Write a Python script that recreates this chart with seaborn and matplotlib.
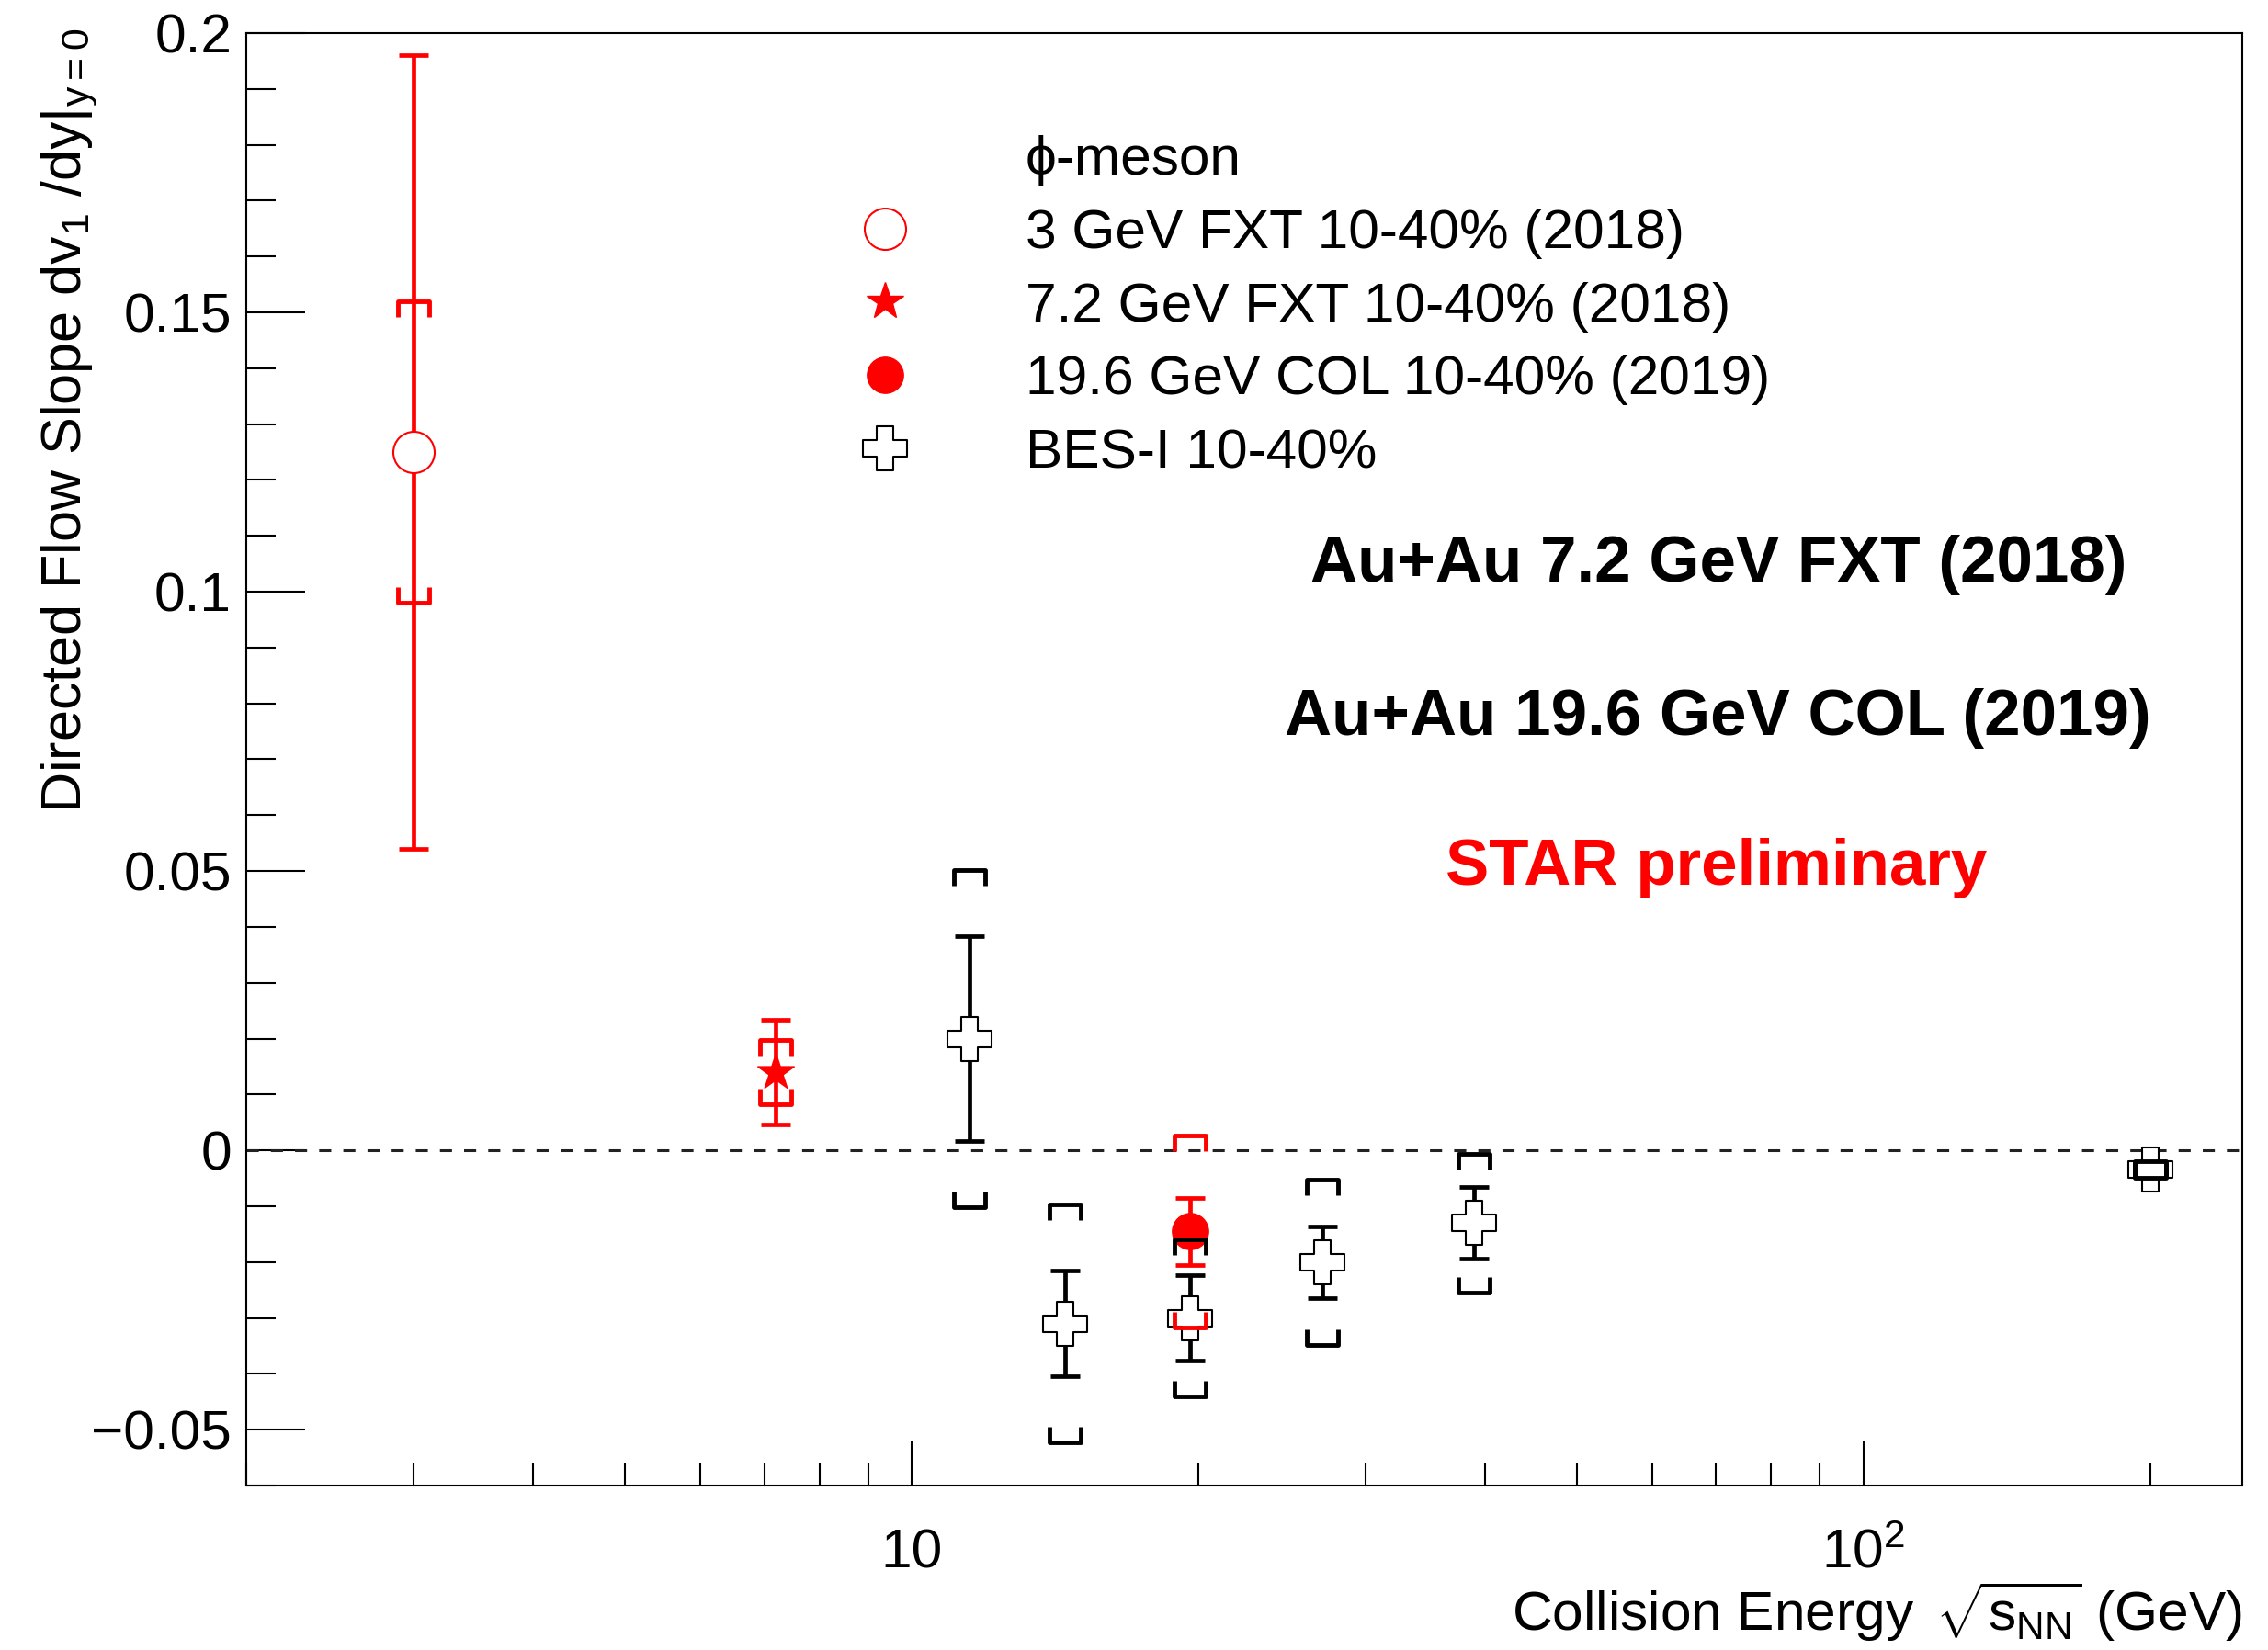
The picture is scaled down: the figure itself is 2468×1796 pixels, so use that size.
import matplotlib
matplotlib.use("Agg")
import numpy as np
import pandas as pd
import matplotlib.pyplot as plt
import seaborn as sns
from matplotlib.path import Path
from matplotlib.markers import MarkerStyle
from matplotlib.lines import Line2D
from matplotlib.ticker import FixedLocator, FixedFormatter, MultipleLocator, LogLocator, NullFormatter

# ---------------------------------------------------------------- data
# phi-meson dv1/dy slope at mid-rapidity, 10-40% centrality
fxt3_energy = [3.0]
fxt3_v1 = [0.125]
fxt3_stat = [0.071]
fxt3_sys = [0.027]

fxt72_energy = [7.2]
fxt72_v1 = [0.014]
fxt72_stat = [0.0093]
fxt72_sys = [0.0057]

col196_energy = [19.6]
col196_v1 = [-0.0145]
col196_stat = [0.006]
col196_sys = [0.0172]

bes_energy = [11.5, 14.5, 19.6, 27.0, 39.0, 200.0]
bes_v1 = [0.020, -0.031, -0.030, -0.020, -0.013, -0.0034]
bes_stat = [0.0183, 0.0095, 0.0076, 0.0064, 0.0064, 0.0010]
bes_sys = [0.0301, 0.0213, 0.0140, 0.0148, 0.0124, 0.0015]

legend_header = "\u03d5-meson"
legend_labels = ["3 GeV FXT 10-40% (2018)",
                 "7.2 GeV FXT 10-40% (2018)",
                 "19.6 GeV COL 10-40% (2019)",
                 "BES-I 10-40%"]

x_tick_values = [10, 100]
x_tick_labels = ["10", r"$10^{2}$"]
y_tick_values = [-0.05, 0.0, 0.05, 0.1, 0.15, 0.2]
y_tick_labels = ["\u22120.05", "0", "0.05", "0.1", "0.15", "0.2"]

annotations = ["Au+Au 7.2 GeV FXT (2018)",
               "Au+Au 19.6 GeV COL (2019)",
               "STAR preliminary"]

# ---------------------------------------------------------------- style
sns.set_theme(style="white", rc={
    "axes.edgecolor": "black",
    "xtick.color": "black",
    "ytick.color": "black",
    "text.color": "black",
    "axes.labelcolor": "black",
})
plt.rcParams["font.family"] = ["Liberation Sans", "DejaVu Sans"]
plt.rcParams["mathtext.fontset"] = "custom"
plt.rcParams["mathtext.rm"] = "Liberation Sans"
plt.rcParams["mathtext.it"] = "Liberation Sans:italic"
plt.rcParams["mathtext.bf"] = "Liberation Sans:bold"
plt.rcParams["mathtext.sf"] = "Liberation Sans"

RED = "#ff0000"
BLACK = "#000000"
FS = 43.5
ERR_LW = 3.4
SYS_LW = 3.5

# open cross (ROOT style 28)
a = 0.38
cross_verts = [(-a, 1), (a, 1), (a, a), (1, a), (1, -a), (a, -a), (a, -1),
               (-a, -1), (-a, -a), (-1, -a), (-1, a), (-a, a), (-a, 1)]
cross_codes = [Path.MOVETO] + [Path.LINETO] * 11 + [Path.CLOSEPOLY]
open_cross = MarkerStyle(Path(cross_verts, cross_codes), joinstyle="miter")

# systematic-uncertainty brackets
bracket_codes = [Path.MOVETO, Path.LINETO, Path.LINETO, Path.LINETO]
bracket_top = MarkerStyle(Path([(-1, -1), (-1, 0), (1, 0), (1, -1)], bracket_codes),
                          joinstyle="miter", capstyle="butt")
bracket_bot = MarkerStyle(Path([(-1, 1), (-1, 0), (1, 0), (1, 1)], bracket_codes),
                          joinstyle="miter", capstyle="butt")

# ---------------------------------------------------------------- figure
fig = plt.figure(figsize=(24.68, 17.96), dpi=100)
ax = fig.add_axes([0.10859, 0.09967, 0.88006, 0.88029])
ax.set_xscale("log")
ax.set_xlim(2.0, 250.0)
ax.set_ylim(-0.06, 0.2)

ax.axhline(0.0, color="#222222", lw=2.2, ls=(0, (4.3, 4.3)), zorder=1)


def draw_stat(energy, v1, stat, color, z):
    ax.errorbar(energy, v1, yerr=stat, fmt="none", ecolor=color,
                elinewidth=ERR_LW, capsize=11.5, capthick=ERR_LW, zorder=z)


def draw_marker(energy, v1, marker, size, face, edge, lw, z):
    df = pd.DataFrame({"energy": energy, "v1": v1})
    sns.scatterplot(data=df, x="energy", y="v1", ax=ax, marker=marker, s=size,
                    color=face, edgecolor=edge, linewidth=lw, legend=False,
                    zorder=z)


def draw_sys(energy, v1, sys, color, z):
    e = np.asarray(energy)
    v = np.asarray(v1)
    s = np.asarray(sys)
    ax.plot(e, v + s, ls="none", marker=bracket_top, ms=24, mfc="none",
            mec=color, mew=SYS_LW, zorder=z)
    ax.plot(e, v - s, ls="none", marker=bracket_bot, ms=24, mfc="none",
            mec=color, mew=SYS_LW, zorder=z)


# new FXT / COL measurements
draw_stat(fxt3_energy, fxt3_v1, fxt3_stat, RED, 3)
draw_marker(fxt3_energy, fxt3_v1, "o", 1050, "white", RED, 1.5, 4)
draw_stat(fxt72_energy, fxt72_v1, fxt72_stat, RED, 3)
draw_marker(fxt72_energy, fxt72_v1, "*", 900, RED, RED, 1.0, 4)
draw_stat(col196_energy, col196_v1, col196_stat, RED, 3)
draw_marker(col196_energy, col196_v1, "o", 800, RED, RED, 1.0, 4)

# BES-I
draw_stat(bes_energy, bes_v1, bes_stat, BLACK, 5)
draw_marker(bes_energy, bes_v1, open_cross, 1150, "white", BLACK, 1.5, 6)
draw_sys(bes_energy, bes_v1, bes_sys, BLACK, 7)

draw_sys(fxt3_energy, fxt3_v1, fxt3_sys, RED, 8)
draw_sys(fxt72_energy, fxt72_v1, fxt72_sys, RED, 8)
draw_sys(col196_energy, col196_v1, col196_sys, RED, 8)

# ---------------------------------------------------------------- axes
ax.xaxis.set_major_locator(FixedLocator(x_tick_values))
ax.xaxis.set_major_formatter(FixedFormatter(x_tick_labels))
ax.xaxis.set_minor_locator(LogLocator(base=10, subs=np.arange(2, 10)))
ax.xaxis.set_minor_formatter(NullFormatter())
ax.yaxis.set_major_locator(FixedLocator(y_tick_values))
ax.yaxis.set_major_formatter(FixedFormatter(y_tick_labels))
ax.yaxis.set_minor_locator(MultipleLocator(0.01))

ax.tick_params(axis="x", which="major", direction="in", length=34.6, width=1.5,
               labelsize=FS, pad=64.8, top=False, bottom=True)
ax.tick_params(axis="x", which="minor", direction="in", length=18, width=1.5,
               top=False, bottom=True)
ax.tick_params(axis="y", which="major", direction="in", length=46, width=1.5,
               labelsize=FS, pad=11.5, right=False, left=True)
ax.tick_params(axis="y", which="minor", direction="in", length=23, width=1.5,
               right=False, left=True)
for lbl in ax.get_xticklabels():
    lbl.set_verticalalignment("baseline")

for sp in ax.spines.values():
    sp.set_linewidth(1.5)
    sp.set_color("black")

ax.set_xlabel(r"Collision Energy $\,\sqrt{\mathrm{s}_{\mathrm{NN}}}$ (GeV)",
              fontsize=43.5, ha="right", va="baseline")
ax.xaxis.set_label_coords(1.0, -0.0999)
ax.set_ylabel(r"Directed Flow Slope dv$_{1}$ /dy$|_{\mathrm{y=0}}$",
              fontsize=44, ha="right", va="baseline")
ax.yaxis.set_label_coords(-0.0829, 1.003)

# ---------------------------------------------------------------- legend
handles = [
    Line2D([], [], ls="none", marker="None"),
    Line2D([], [], ls="none", marker="o", ms=32.4, mfc="white", mec=RED, mew=1.5),
    Line2D([], [], ls="none", marker="*", ms=30, mfc=RED, mec=RED, mew=1.0),
    Line2D([], [], ls="none", marker="o", ms=28.3, mfc=RED, mec=RED, mew=1.0),
    Line2D([], [], ls="none", marker=open_cross, ms=33.9, mfc="white", mec=BLACK, mew=1.5),
]
ax.legend(handles, [legend_header] + legend_labels, loc="upper left",
          bbox_to_anchor=(0.378, 0.9181), bbox_transform=fig.transFigure,
          frameon=False, fontsize=FS, handlelength=1.0, handletextpad=2.03,
          labelspacing=0.41, borderpad=0, borderaxespad=0, handleheight=0.7,
          numpoints=1)

# ---------------------------------------------------------------- labels
ax.text(0.7376, 0.6224, annotations[0], transform=ax.transAxes, ha="center",
        va="baseline", fontsize=51, fontweight="bold", color=BLACK)
ax.text(0.7371, 0.5168, annotations[1], transform=ax.transAxes, ha="center",
        va="baseline", fontsize=51, fontweight="bold", color=BLACK)
ax.text(0.7366, 0.4137, annotations[2], transform=ax.transAxes, ha="center",
        va="baseline", fontsize=51, fontweight="bold", color=RED)

fig.savefig("out.png", dpi=100)
